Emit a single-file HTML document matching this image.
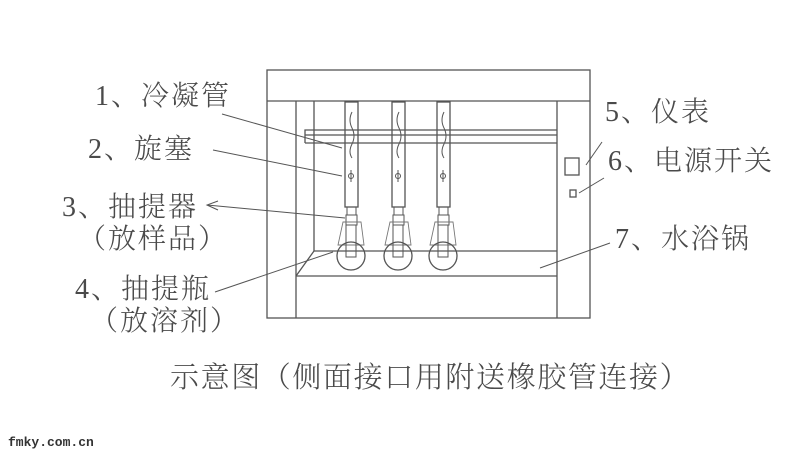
<!DOCTYPE html>
<html><head><meta charset="utf-8"><style>
body{margin:0;background:#fff;width:800px;height:456px;overflow:hidden;position:relative}
.t{position:absolute;font-family:"Liberation Serif","Noto Serif CJK SC",serif;color:#4a4a4a;font-size:28px;letter-spacing:2px;line-height:30px;white-space:nowrap;font-weight:300}
</style></head><body>
<svg width="800" height="456" style="position:absolute;left:0;top:0" fill="none" stroke="#555" stroke-width="1.3">
<rect x="267" y="70" width="323" height="248"/>
<line x1="267" y1="101" x2="590" y2="101"/>
<line x1="296" y1="101" x2="296" y2="318"/>
<line x1="314" y1="101" x2="314" y2="251"/>
<line x1="557" y1="101" x2="557" y2="318"/>
<line x1="296" y1="276" x2="557" y2="276"/>
<line x1="314" y1="251" x2="557" y2="251"/>
<line x1="296" y1="276" x2="314" y2="251"/>
<polyline points="305,143 305,130 557,130"/>
<line x1="305" y1="135" x2="557" y2="135"/>
<line x1="305" y1="143" x2="557" y2="143"/>
<g id="u">
<rect x="345" y="102" width="13" height="105"/>
<path d="M352,112 q-4,8 0,16 q4,8 0,16 q-4,8 0,14" stroke-width="1"/>
<line x1="351" y1="170" x2="351" y2="182" stroke-width="1"/><circle cx="351" cy="176" r="2.5" stroke-width="1"/>
<rect x="347" y="207" width="9" height="8" stroke-width="1"/>
<rect x="346" y="215" width="11" height="10" stroke-width="1"/>
<path d="M343,222 L361,222 L364,245 L338,245 Z" stroke-width="0.9" stroke="#777"/>
<rect x="346" y="225" width="10" height="32" stroke-width="1"/>
<circle cx="351" cy="256" r="14"/>
</g>
<use href="#u" x="47"/><use href="#u" x="92"/>
<rect x="565" y="158" width="14" height="17"/>
<rect x="570" y="190" width="6" height="7"/>
<line x1="222" y1="114" x2="342" y2="148" stroke-width="1"/>
<line x1="213" y1="150" x2="342" y2="176" stroke-width="1"/>
<line x1="207" y1="205" x2="345" y2="218" stroke-width="1"/>
<path d="M218,201 L207,205 L218,210" stroke-width="1"/>
<line x1="215" y1="292" x2="333" y2="252" stroke-width="1"/>
<line x1="602" y1="142" x2="586" y2="165" stroke-width="1"/>
<line x1="604" y1="178" x2="579" y2="193" stroke-width="1"/>
<line x1="610" y1="243" x2="540" y2="268" stroke-width="1"/>
</svg>
<div class="t" style="left:95px;top:82px">1、冷凝管</div>
<div class="t" style="left:88px;top:135px">2、旋塞</div>
<div class="t" style="left:62px;top:193px">3、抽提器</div>
<div class="t" style="left:78px;top:225px">（放样品）</div>
<div class="t" style="left:75px;top:275px">4、抽提瓶</div>
<div class="t" style="left:90px;top:307px">（放溶剂）</div>
<div class="t" style="left:605px;top:98px">5、仪表</div>
<div class="t" style="left:608px;top:147px">6、电源开关</div>
<div class="t" style="left:615px;top:225px">7、水浴锅</div>
<div class="t" style="left:170px;top:363px;font-size:29px;letter-spacing:1.6px">示意图（侧面接口用附送橡胶管连接）</div>
<div class="t" style="left:8px;top:428px;font-size:13px;letter-spacing:0;font-family:'Liberation Mono',monospace;color:#333;font-weight:bold">fmky.com.cn</div>
</body></html>
